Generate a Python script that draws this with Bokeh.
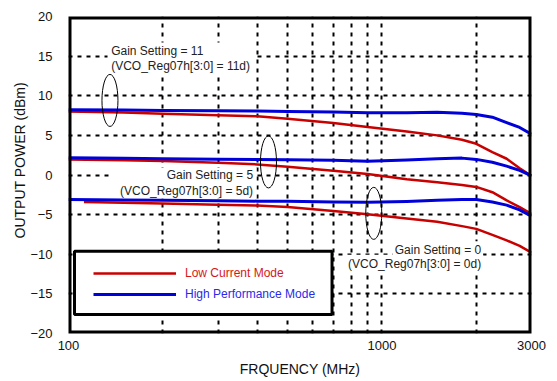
from bokeh.plotting import figure
from bokeh.models import FixedTicker, Label, BoxAnnotation, Legend, LegendItem, Title
from bokeh.embed import file_html
from bokeh.resources import INLINE

# Output power vs. frequency for three VCO gain settings, two bias modes
freq_mhz = [100, 150, 200, 300, 400, 500, 700, 900, 1200, 1500, 1800, 2000, 2250, 2500, 2750, 3000]
freq_lc0_mhz = [112, 150, 200, 300, 400, 500, 700, 900, 1200, 1500, 1800, 2000, 2250, 2500, 2750, 3000]

hp_gain11 = [8.24, 8.2, 8.15, 8.1, 8.07, 8.02, 7.95, 7.85, 7.84, 7.92, 7.8, 7.64, 7.3, 6.6, 6.0, 5.15]
lc_gain11 = [8.02, 7.88, 7.73, 7.55, 7.4, 7.1, 6.55, 6.05, 5.5, 5.0, 4.45, 3.94, 2.9, 2.05, 0.85, -0.1]
hp_gain5 = [2.18, 2.1, 2.05, 2.0, 1.95, 1.93, 1.85, 1.75, 1.88, 2.05, 2.13, 1.97, 1.6, 1.12, 0.58, -0.1]
lc_gain5 = [1.97, 1.86, 1.76, 1.55, 1.34, 1.05, 0.55, 0.12, -0.55, -0.92, -1.25, -1.5, -2.17, -3.2, -4.05, -4.9]
hp_gain0 = [-3.1, -3.15, -3.2, -3.25, -3.3, -3.3, -3.4, -3.45, -3.35, -3.2, -3.1, -3.1, -3.4, -3.8, -4.4, -5.2]
lc_gain0 = [-3.4, -3.5, -3.6, -3.75, -3.85, -4.05, -4.55, -4.95, -5.5, -5.9, -6.45, -6.8, -7.55, -8.25, -8.95, -9.8]

x_tick_labels = [100, 1000, 3000]
x_grid_lines = [200, 300, 400, 500, 600, 700, 800, 900, 1000, 2000]
y_ticks = [-20, -15, -10, -5, 0, 5, 10, 15, 20]

RED = "#c80000"
BLUE = "#0000d8"
FONT = "Liberation Sans"
INK = "#111111"

p = figure(width=557, height=381, x_axis_type="log",
           x_range=(100, 3000), y_range=(-20, 20),
           output_backend="svg", toolbar_location=None,
           min_border_left=68, min_border_right=26,
           min_border_top=16, min_border_bottom=48)

p.background_fill_color = "white"
p.border_fill_color = "white"
p.outline_line_color = None

# axes
p.xaxis.ticker = FixedTicker(ticks=x_tick_labels)
p.yaxis.ticker = FixedTicker(ticks=y_ticks)
p.xaxis.major_label_overrides = {v: str(v) for v in x_tick_labels}
for ax in (p.xaxis[0], p.yaxis[0]):
    ax.axis_line_color = None
    ax.major_tick_line_color = None
    ax.minor_tick_line_color = None
    ax.major_label_text_font = FONT
    ax.major_label_text_font_size = "13px"
    ax.major_label_text_color = INK
    ax.axis_label_text_font = FONT
    ax.axis_label_text_font_size = "14px"
    ax.axis_label_text_font_style = "normal"
    ax.axis_label_text_color = INK
p.xaxis.major_label_standoff = 1
p.yaxis.major_label_standoff = 10
p.xaxis.axis_label = "FRQUENCY (MHz)"
p.xaxis.axis_label_standoff = 8

# y-axis title, set a little above the frame's centre
p.add_layout(Title(text="OUTPUT POWER (dBm)", align="left", offset=95, standoff=0,
                   text_font=FONT, text_font_size="14px", text_font_style="normal",
                   text_color=INK, text_baseline="top"), "left")

# dashed grid
p.xgrid.ticker = FixedTicker(ticks=x_grid_lines)
p.ygrid.ticker = FixedTicker(ticks=y_ticks)
for g in (p.xgrid[0], p.ygrid[0]):
    g.grid_line_color = "black"
    g.grid_line_width = 2
    g.grid_line_dash = "4 5"

# curves
r_lc11 = p.line(freq_mhz, lc_gain11, line_color=RED, line_width=2.5, line_join="round")
r_lc5 = p.line(freq_mhz, lc_gain5, line_color=RED, line_width=2.5, line_join="round")
r_lc0 = p.line(freq_lc0_mhz, lc_gain0, line_color=RED, line_width=2.5, line_join="round")
r_hp11 = p.line(freq_mhz, hp_gain11, line_color=BLUE, line_width=3, line_join="round")
r_hp5 = p.line(freq_mhz, hp_gain5, line_color=BLUE, line_width=3, line_join="round")
r_hp0 = p.line(freq_mhz, hp_gain0, line_color=BLUE, line_width=3, line_join="round")

# heavy frame: a rectangle on the range limits (clipped to the frame, so half shows)
p.quad(left=[p.x_range.start], right=[p.x_range.end],
       top=[p.y_range.end], bottom=[p.y_range.start],
       fill_color=None, line_color="black", line_width=6)

# ellipses grouping each gain setting
p.ellipse(x=[135.6, 434.5, 941.6], y=[9.41, 1.65, -4.84], width=16, height=52,
          width_units="screen", height_units="screen",
          fill_color=None, line_color="black", line_width=1)

# annotation text
def note(x, y, text, align, bg=False):
    lab = Label(x=x, y=y, text=text, text_align=align, text_baseline="middle",
                text_font=FONT, text_font_size="12px", text_color="#222222",
                level="underlay")
    if bg:
        lab.background_fill_color = "white"
        lab.padding = 2
    p.add_layout(lab)

p.add_layout(BoxAnnotation(left=133.2, right=395, top=16.72, bottom=12.43,
                           fill_color="white", fill_alpha=1, line_color=None, level="underlay"))
p.add_layout(BoxAnnotation(left=137.1, right=398, top=0.9, bottom=-2.95,
                           fill_color="white", fill_alpha=1, line_color=None, level="underlay"))

note(136.8, 15.62, "Gain Setting = 11", "left")
note(136.8, 13.78, "(VCO_Reg07h[3:0] = 11d)", "left")
note(388, -0.05, "Gain Setting = 5", "right")
note(388, -2.03, "(VCO_Reg07h[3:0] = 5d)", "right")
note(2103, -9.5, "Gain Setting = 0", "right", bg=True)
note(2103, -11.19, "(VCO_Reg07h[3:0] = 0d)", "right", bg=True)

# legend frame and entries
p.add_layout(BoxAnnotation(left=104.5, right=693, top=-9.63, bottom=-17.6,
                           fill_color="white", fill_alpha=1,
                           line_color="black", line_alpha=1, line_width=3))

def legend_entry(label, renderer, color, loc):
    leg = Legend(items=[LegendItem(label=label, renderers=[renderer])],
                 location=loc, orientation="vertical",
                 background_fill_alpha=0, border_line_color=None,
                 padding=0, margin=0, spacing=0,
                 glyph_width=83, glyph_height=12, label_height=12,
                 label_standoff=9, label_text_font=FONT,
                 label_text_font_size="12px", label_text_color=color)
    p.add_layout(leg)

legend_entry("Low Current Mode", r_lc11, "#d41818", (25, 53))
legend_entry("High Performance Mode", r_hp11, "#2a2ae8", (25, 32))

open("out.html", "w").write(file_html(p, INLINE))
